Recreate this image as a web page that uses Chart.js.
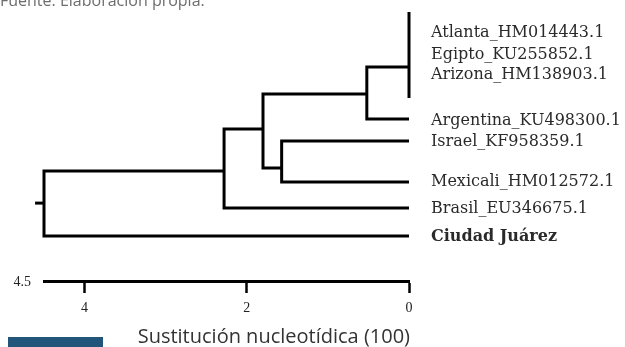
<!DOCTYPE html>
<html>
<head>
<meta charset="utf-8">
<script src="https://cdn.jsdelivr.net/npm/chart.js@4.4.1/dist/chart.umd.min.js"></script>
<style>
  html, body { margin: 0; padding: 0; background: #fff; }
  #wrap { position: relative; width: 625px; height: 347px; overflow: hidden; }
  #c { position: absolute; left: 0; top: 0; }
  #bluebar { position: absolute; left: 8px; top: 337px; width: 95px; height: 10px; background: #22557a; }
</style>
</head>
<body>
<div id="wrap">
  <canvas id="c" width="625" height="347"></canvas>
  <div id="bluebar"></div>
</div>
<script>
// ---- Data ----
const leafNames = ['Atlanta_HM014443.1', 'Egipto_KU255852.1', 'Arizona_HM138903.1', 'Argentina_KU498300.1',
                   'Israel_KF958359.1', 'Mexicali_HM012572.1', 'Brasil_EU346675.1', 'Ciudad Juárez'];
const leafDistance = [0, 0, 0, 0, 0, 0, 0, 0];          // substitutions from tip (x axis)
const leafRow = [-0.95, 1.0, 2.95, 3.91, 4.91, 6.77, 7.95, 9.23];   // branch row of each tip
const labelRow = [0, 1, 1.91, 4.0, 4.95, 6.77, 8.0, 9.27];          // row of each tip label

const nodeNames = ['E', 'C', 'D', 'B', 'A', 'root'];
const nodeDistance = [0, 0.52, 1.57, 1.80, 2.28, 4.5];
const nodeRow = [1.55, 2.77, 6.14, 4.36, 6.27, 7.73];
const nodeChildren = [
  ['Atlanta_HM014443.1', 'Egipto_KU255852.1', 'Arizona_HM138903.1'],
  ['E', 'Argentina_KU498300.1'],
  ['Israel_KF958359.1', 'Mexicali_HM012572.1'],
  ['C', 'D'],
  ['B', 'Brasil_EU346675.1'],
  ['A', 'Ciudad Juárez']
];
const rootBranch = 0.11;
const xTicks = [4, 2, 0];
const scaleBarLabel = '4.5';
const axisTitle = 'Sustitución nucleotídica (100)';
const sourceNote = 'Fuente: Elaboración propia.';

// ---- Build line segments from the tree ----
function pos(name) {
  const li = leafNames.indexOf(name);
  if (li >= 0) return { x: leafDistance[li], y: leafRow[li] };
  const ni = nodeNames.indexOf(name);
  return { x: nodeDistance[ni], y: nodeRow[ni] };
}
const lineStyle = {
  showLine: true, borderColor: '#000', borderWidth: 3, pointRadius: 0, pointHoverRadius: 0,
  fill: false, tension: 0, clip: false, borderJoinStyle: 'miter', borderCapStyle: 'butt'
};
const datasets = [];
nodeNames.forEach((n, i) => {
  const kids = nodeChildren[i].map(pos);
  const d = nodeDistance[i];
  const first = kids[0], last = kids[kids.length - 1];
  datasets.push(Object.assign({ data: [
    { x: first.x, y: first.y }, { x: d, y: first.y }, { x: d, y: last.y }, { x: last.x, y: last.y }
  ] }, lineStyle));
  kids.slice(1, -1).forEach(k => {
    if (k.x !== d) datasets.push(Object.assign({ data: [{ x: d, y: k.y }, { x: k.x, y: k.y }] }, lineStyle));
  });
});
const rootIdx = nodeNames.indexOf('root');
datasets.push(Object.assign({ data: [
  { x: nodeDistance[rootIdx] + rootBranch, y: nodeRow[rootIdx] },
  { x: nodeDistance[rootIdx], y: nodeRow[rootIdx] }
] }, lineStyle));

const extraText = {
  id: 'extraText',
  afterDraw(chart) {
    const ctx = chart.ctx;
    const xs = chart.scales.x;
    ctx.save();
    // source note (cut off at top as in the reference)
    ctx.fillStyle = '#6d6d6d';
    ctx.font = '16px "Open Sans"';
    ctx.textAlign = 'left';
    ctx.textBaseline = 'alphabetic';
    ctx.fillText(sourceNote, 0, 6);
    // scale-bar start label
    ctx.fillStyle = '#222';
    ctx.font = '14px "Liberation Serif"';
    ctx.textAlign = 'right';
    ctx.textBaseline = 'middle';
    ctx.fillText(scaleBarLabel, xs.getPixelForValue(4.5) - 13, xs.top + 1);
    // axis title, right-aligned to the axis end
    ctx.fillStyle = '#333';
    ctx.font = '20px "Open Sans"';
    ctx.textAlign = 'right';
    ctx.textBaseline = 'alphabetic';
    ctx.fillText(axisTitle, xs.right + 1, xs.bottom - 4);
    ctx.restore();
  }
};

new Chart(document.getElementById('c'), {
  type: 'scatter',
  data: { datasets },
  options: {
    responsive: false,
    devicePixelRatio: 1,
    animation: false,
    events: [],
    layout: { padding: { left: 44, right: 0, top: 0, bottom: 0 } },
    plugins: { legend: { display: false }, tooltip: { enabled: false }, title: { display: false } },
    scales: {
      x: {
        type: 'linear', position: 'bottom', reverse: true, min: 0, max: 4.5,
        afterBuildTicks: s => { s.ticks = xTicks.map(v => ({ value: v })); },
        afterFit: s => { s.height = 66; s.paddingLeft = 0; s.paddingRight = 0; },
        grid: { display: true, drawOnChartArea: false, drawTicks: true, tickLength: 12, tickWidth: 2.5, tickColor: '#000' },
        border: { display: true, width: 3, color: '#000' },
        ticks: { color: '#222', font: { family: 'Liberation Serif', size: 14 }, padding: 7, maxRotation: 0, autoSkip: false },
        title: { display: false }
      },
      y: {
        type: 'linear', position: 'right', reverse: true, min: -1.5, max: 11.27,
        afterBuildTicks: s => { s.ticks = labelRow.map(v => ({ value: v })); },
        afterFit: s => { s.width = 216; s.paddingTop = 0; s.paddingBottom = 0; },
        grid: { display: false, drawTicks: false },
        border: { display: false },
        ticks: {
          autoSkip: false, padding: 22, crossAlign: 'near', color: '#2a2a2a',
          callback: (v, i) => leafNames[i],
          font: ctx => ({ family: 'DejaVu Serif', size: 16, weight: ctx.index === 7 ? 'bold' : 'normal' })
        }
      }
    }
  },
  plugins: [extraText]
});
</script>
</body>
</html>
